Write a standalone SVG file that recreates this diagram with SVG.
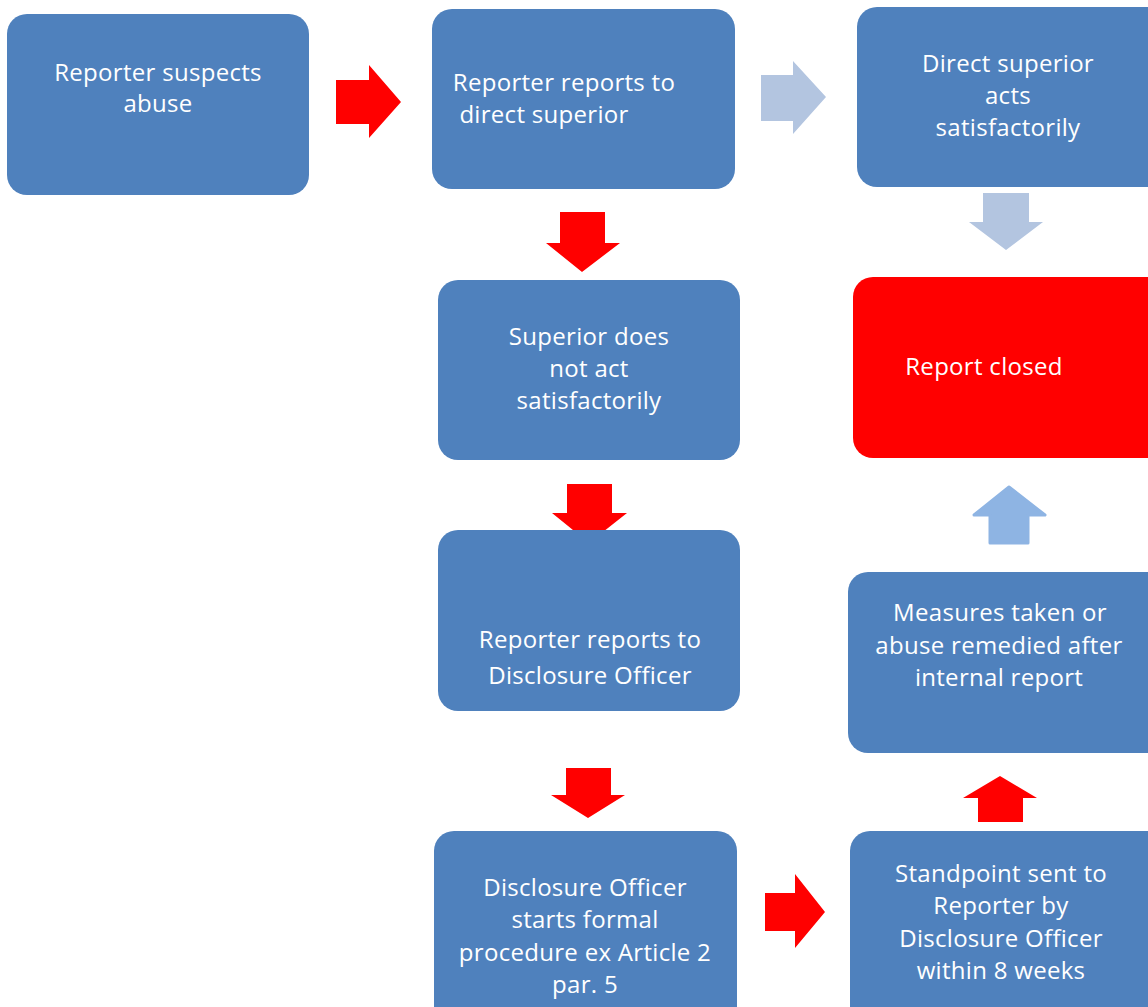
<svg xmlns="http://www.w3.org/2000/svg" width="1148" height="1007" viewBox="0 0 1148 1007">
<style>
.box{fill:#4F81BD;}
.red{fill:#FF0000;}
.t{fill:#FFFFFF;font-family:"Open Sans","Liberation Sans",sans-serif;font-size:24px;letter-spacing:0.3px;text-anchor:middle;}
.ar{fill:#FF0000;}
.al{fill:#B3C5E0;}
.ab{fill:#8EB4E3;stroke:#8EB4E3;stroke-width:3;stroke-linejoin:round;}
</style>
<rect width="1148" height="1007" fill="#FFFFFF"/>
<g id="connectors">
<polygon class="ar" points="336,80 369,80 369,65 401,102 369,138 369,124 336,124"/>
<polygon class="al" points="761,75 793,75 793,61 826,97 793,134 793,121 761,121"/>
<polygon class="ar" points="560,212 605,212 605,243 620,243 582,272 546,243 560,243"/>
<polygon class="al" points="983,193 1029,193 1029,222 1043,222 1006,250 969,222 983,222"/>
<polygon class="ab" points="1009,487 1045,515 1028,515 1028,543 990,543 990,515 974,515"/>
<polygon class="ar" points="567,484 612,484 612,513 627,513 589,543 552,513 567,513"/>
<polygon class="ar" points="566,768 611,768 611,795 625,795 588,818 551,795 566,795"/>
<polygon class="ar" points="1000,776 1037,798 1023,798 1023,822 978,822 978,798 963,798"/>
<polygon class="ar" points="765,893 795,893 795,874 825,912 795,948 795,931 765,931"/>
</g>
<g id="n1"><rect class="box" x="7" y="14" width="302" height="181" rx="20"/>
<text class="t" x="158" y="81">Reporter suspects</text><text class="t" x="158" y="112">abuse</text></g>
<g id="n2"><rect class="box" x="432" y="9" width="303" height="180" rx="20"/>
<text class="t" x="564" y="91">Reporter reports to</text><text class="t" x="544" y="123">direct superior</text></g>
<g id="n3"><rect class="box" x="857" y="7" width="311" height="180" rx="20"/>
<text class="t" x="1008" y="72">Direct superior</text><text class="t" x="1008" y="104">acts</text><text class="t" x="1008" y="136">satisfactorily</text></g>
<g id="n4"><rect class="box" x="438" y="280" width="302" height="180" rx="20"/>
<text class="t" x="589" y="345">Superior does</text><text class="t" x="589" y="377">not act</text><text class="t" x="589" y="409">satisfactorily</text></g>
<g id="n5"><rect class="red" x="853" y="277" width="315" height="181" rx="20"/>
<text class="t" x="984" y="375">Report closed</text></g>
<g id="n6"><rect class="box" x="438" y="530" width="302" height="181" rx="20"/>
<text class="t" x="590" y="648">Reporter reports to</text><text class="t" x="590" y="684">Disclosure Officer</text></g>
<g id="n7"><rect class="box" x="848" y="572" width="320" height="181" rx="20"/>
<text class="t" x="1000" y="621">Measures taken or</text><text class="t" x="999" y="654">abuse remedied after</text><text class="t" x="999" y="686">internal report</text></g>
<g id="n8"><rect class="box" x="434" y="831" width="303" height="196" rx="20"/>
<text class="t" x="585" y="896">Disclosure Officer</text><text class="t" x="585" y="928">starts formal</text><text class="t" x="585" y="961">procedure ex Article 2</text><text class="t" x="585" y="993">par. 5</text></g>
<g id="n9"><rect class="box" x="850" y="831" width="318" height="196" rx="20"/>
<text class="t" x="1001" y="882">Standpoint sent to</text><text class="t" x="1001" y="914">Reporter by</text><text class="t" x="1001" y="947">Disclosure Officer</text><text class="t" x="1001" y="979">within 8 weeks</text></g>
</svg>
